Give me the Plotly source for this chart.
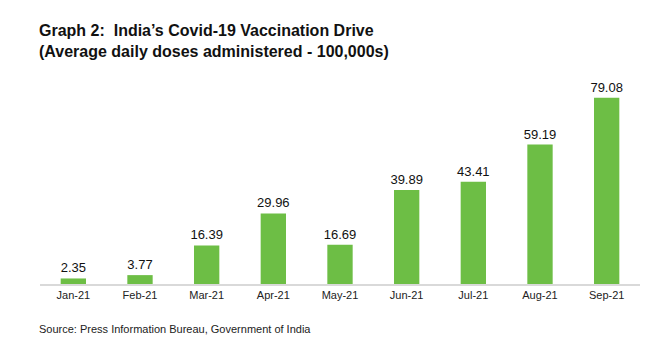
import plotly.graph_objects as go

months = ["Jan-21", "Feb-21", "Mar-21", "Apr-21", "May-21", "Jun-21", "Jul-21", "Aug-21", "Sep-21"]
doses = [2.35, 3.77, 16.39, 29.96, 16.69, 39.89, 43.41, 59.19, 79.08]
labels = ["2.35", "3.77", "16.39", "29.96", "16.69", "39.89", "43.41", "59.19", "79.08"]

FONT = "Liberation Sans, Arial, Helvetica, sans-serif"

fig = go.Figure(go.Bar(
    x=months, y=doses, text=labels, textposition="outside",
    constraintext="none",
    textfont=dict(size=13, color="#111111", family=FONT),
    marker=dict(color="#6DBE45", line=dict(width=0)),
    cliponaxis=False,
))

fig.update_layout(
    width=660, height=347,
    margin=dict(l=40, r=20, t=72, b=63),
    paper_bgcolor="white", plot_bgcolor="white",
    bargap=0.62,
    showlegend=False,
    font=dict(family=FONT, color="#222222"),
    xaxis=dict(showline=True, linecolor="#D9D9D9", linewidth=2, ticks="",
               tickfont=dict(size=11, color="#222222"), showgrid=False),
    yaxis=dict(range=[0, 90], visible=False, showgrid=False, zeroline=False),
    annotations=[
        dict(text="<b>Graph 2:  India’s Covid-19 Vaccination Drive<br>(Average daily doses administered - 100,000s)</b>",
             xref="paper", yref="paper", x=0, y=1, xshift=-3, yshift=10,
             xanchor="left", yanchor="bottom", align="left", showarrow=False,
             font=dict(size=16, color="#111111", family=FONT)),
        dict(text="Source: Press Information Bureau, Government of India",
             xref="paper", yref="paper", x=0, y=0, xshift=-3, yshift=-53,
             xanchor="left", yanchor="bottom", align="left", showarrow=False,
             font=dict(size=11, color="#222222", family=FONT)),
    ],
)

fig.write_html("out.html")
